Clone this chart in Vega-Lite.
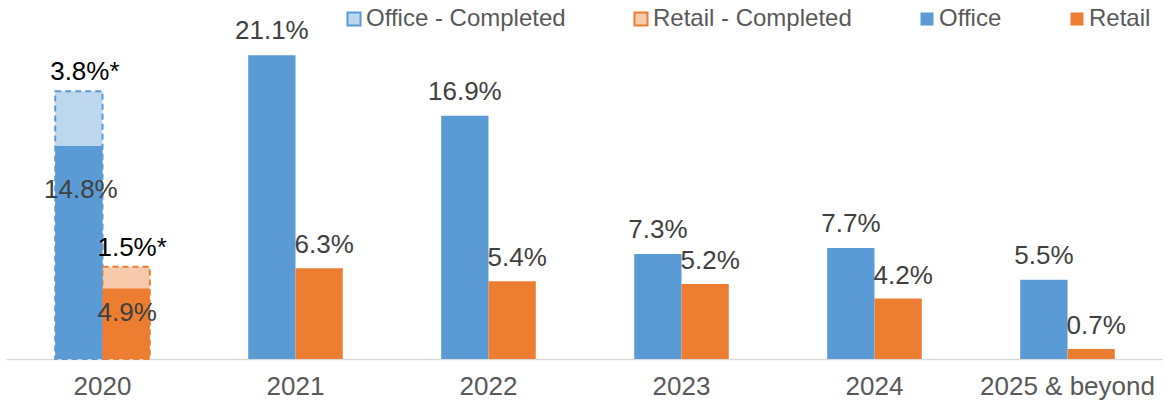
{
  "$schema": "https://vega.github.io/schema/vega-lite/v6.json",
  "autosize": {"type": "none"},
  "width": 1158,
  "height": 359,
  "padding": {"left": 6, "top": 0, "right": 0, "bottom": 45},
  "config": {
    "view": {"stroke": null},
    "font": "Liberation Sans",
    "text": {"font": "Liberation Sans"}
  },
  "data": {
    "values": [
      {"year": "2020", "series": "Office", "status": "Main", "legend": "Office", "value": 0.148},
      {"year": "2020", "series": "Retail", "status": "Main", "legend": "Retail", "value": 0.049},
      {"year": "2020", "series": "Office", "status": "Completed", "legend": "Office - Completed", "value": 0.038},
      {"year": "2020", "series": "Retail", "status": "Completed", "legend": "Retail - Completed", "value": 0.015},
      {"year": "2021", "series": "Office", "status": "Main", "legend": "Office", "value": 0.211},
      {"year": "2021", "series": "Retail", "status": "Main", "legend": "Retail", "value": 0.063},
      {"year": "2022", "series": "Office", "status": "Main", "legend": "Office", "value": 0.169},
      {"year": "2022", "series": "Retail", "status": "Main", "legend": "Retail", "value": 0.054},
      {"year": "2023", "series": "Office", "status": "Main", "legend": "Office", "value": 0.073},
      {"year": "2023", "series": "Retail", "status": "Main", "legend": "Retail", "value": 0.052},
      {"year": "2024", "series": "Office", "status": "Main", "legend": "Office", "value": 0.077},
      {"year": "2024", "series": "Retail", "status": "Main", "legend": "Retail", "value": 0.042},
      {"year": "2025 & beyond", "series": "Office", "status": "Main", "legend": "Office", "value": 0.055},
      {"year": "2025 & beyond", "series": "Retail", "status": "Main", "legend": "Retail", "value": 0.007}
    ]
  },
  "encoding": {
    "x": {
      "field": "year", "type": "nominal", "sort": null,
      "scale": {"paddingInner": 0.51, "paddingOuter": 0.255},
      "axis": {
        "title": null, "labelAngle": 0, "ticks": false,
        "labelFontSize": 26, "labelFont": "Liberation Sans", "labelColor": "#595959",
        "labelPadding": 14, "domainColor": "#D9D9D9", "domainWidth": 1.5, "grid": false
      }
    },
    "xOffset": {"field": "series", "type": "nominal", "scale": {"domain": ["Office", "Retail"], "paddingInner": 0, "paddingOuter": 0}}
  },
  "layer": [
    {
      "transform": [
        {"filter": "datum.year == '2020'"},
        {"joinaggregate": [{"op": "sum", "field": "value", "as": "total"}], "groupby": ["series"]},
        {"filter": "datum.status == 'Completed'"}
      ],
      "mark": {"type": "bar", "strokeDash": [6, 4], "strokeWidth": 2},
      "encoding": {
        "y": {"field": "total", "type": "quantitative", "scale": {"domain": [0, 0.2493], "nice": false, "zero": true}, "axis": null},
        "color": {
          "field": "legend", "type": "nominal",
          "scale": {"domain": ["Office - Completed", "Retail - Completed", "Office", "Retail"], "range": ["#BDD7EE", "#F8CBAD", "#5B9BD5", "#ED7D31"]},
          "legend": {
            "title": null, "orient": "none", "legendX": 336, "legendY": 7, "direction": "horizontal",
            "symbolType": "square", "symbolSize": 169, "labelFontSize": 24, "labelFont": "Liberation Sans",
            "labelColor": "#595959", "labelOffset": 0, "columnPadding": 63, "labelLimit": 400, "symbolOpacity": 1,
            "encode": {
              "symbols": {
                "update": {
                  "stroke": {"signal": "indexof(datum.label, 'Completed') >= 0 ? (indexof(datum.label, 'Office') >= 0 ? '#5B9BD5' : '#ED7D31') : 'transparent'"},
                  "strokeWidth": {"value": 2}
                }
              }
            }
          }
        },
        "stroke": {"field": "series", "type": "nominal", "scale": {"domain": ["Office", "Retail"], "range": ["#5B9BD5", "#ED7D31"]}, "legend": null}
      }
    },
    {
      "transform": [{"filter": "datum.status == 'Main'"}],
      "mark": {"type": "bar"},
      "encoding": {
        "y": {"field": "value", "type": "quantitative"},
        "color": {"field": "legend", "type": "nominal"}
      }
    },
    {
      "transform": [{"filter": "datum.status == 'Main' && datum.year != '2020' && datum.series == 'Office'"}],
      "mark": {"type": "text", "baseline": "alphabetic", "dy": -16, "fontSize": 26, "color": "#404040"},
      "encoding": {
        "y": {"field": "value", "type": "quantitative"},
        "text": {"field": "value", "type": "quantitative", "format": ".1%"}
      }
    },
    {
      "transform": [{"filter": "datum.status == 'Main' && datum.year != '2020' && datum.series == 'Retail'"}],
      "mark": {"type": "text", "baseline": "alphabetic", "dy": -15, "dx": 5, "fontSize": 26, "color": "#404040"},
      "encoding": {
        "y": {"field": "value", "type": "quantitative"},
        "text": {"field": "value", "type": "quantitative", "format": ".1%"}
      }
    },
    {
      "transform": [{"filter": "datum.status == 'Main' && datum.year == '2020' && datum.series == 'Office'"}],
      "mark": {"type": "text", "baseline": "alphabetic", "dy": 52, "dx": 2, "fontSize": 26, "color": "#404040"},
      "encoding": {
        "y": {"field": "value", "type": "quantitative"},
        "text": {"field": "value", "type": "quantitative", "format": ".1%"}
      }
    },
    {
      "transform": [{"filter": "datum.status == 'Main' && datum.year == '2020' && datum.series == 'Retail'"}],
      "mark": {"type": "text", "baseline": "alphabetic", "dy": 33, "dx": 1, "fontSize": 26, "color": "#404040"},
      "encoding": {
        "y": {"field": "value", "type": "quantitative"},
        "text": {"field": "value", "type": "quantitative", "format": ".1%"}
      }
    },
    {
      "transform": [
        {"filter": "datum.year == '2020'"},
        {"joinaggregate": [{"op": "sum", "field": "value", "as": "total"}], "groupby": ["series"]},
        {"filter": "datum.status == 'Completed'"}
      ],
      "mark": {"type": "text", "baseline": "alphabetic", "dy": -11, "dx": 6, "fontSize": 26, "color": "#000000", "text": {"expr": "format(datum.value, '.1%') + '*'"}},
      "encoding": {
        "y": {"field": "total", "type": "quantitative"}
      }
    }
  ]
}
